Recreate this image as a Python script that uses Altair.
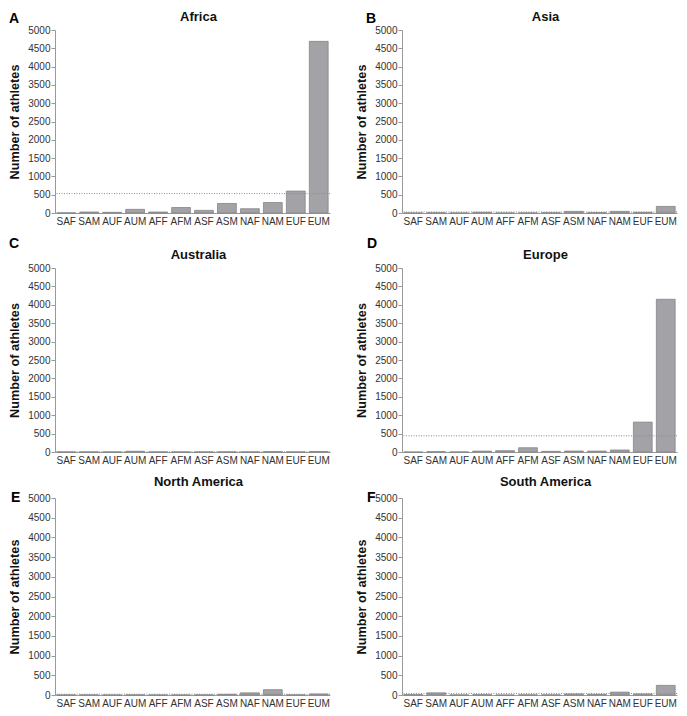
import altair as alt
import pandas as pd

categories = ["SAF", "SAM", "AUF", "AUM", "AFF", "AFM", "ASF", "ASM", "NAF", "NAM", "EUF", "EUM"]

africa = [5, 27, 18, 100, 27, 150, 72, 260, 117, 287, 600, 4690]
asia = [2, 8, 2, 20, 1, 3, 8, 45, 10, 45, 18, 180]
australia = [1, 2, 1, 20, 1, 1, 1, 2, 2, 10, 2, 15]
europe = [0, 9, 2, 25, 36, 116, 18, 27, 25, 54, 812, 4150]
north_america = [2, 2, 1, 3, 1, 1, 2, 18, 55, 136, 3, 27]
south_america = [10, 55, 3, 10, 0, 5, 5, 27, 18, 73, 27, 245]

letters = ["A", "B", "C", "D", "E", "F"]
names = ["Africa", "Asia", "Australia", "Europe", "North America", "South America"]
series = [africa, asia, australia, europe, north_america, south_america]

y_ticks = list(range(0, 5001, 500))
FONT = "Liberation Sans"
W = 275
ROW_H = [183, 184, 197]
TITLE_Y = [-9, -9, -12]
LETTER_Y = [[-7, -7], [-20, -20], [4, 4]]
LETTER_X = [[-46, -36], [-46, -35], [-44, -35]]

Y_AXIS = alt.Axis(values=y_ticks, format="d", title="Number of athletes",
                  grid=False, tickSize=4, tickColor="#9a9a9a",
                  domainColor="#9a9a9a", labelOverlap=False,
                  labelFontSize=10, labelColor="#333333", labelPadding=1,
                  labelFont=FONT, titleFont=FONT, titleFontSize=12.7,
                  titleFontWeight="bold", titleColor="#111111",
                  titlePadding=6)
Y_SCALE = alt.Scale(domain=[0, 5000], nice=False)


def panel(letter, name, values, h, ty, lx, ly):
    df = pd.DataFrame({"cat": categories, "n": values})
    base = alt.Chart(df)
    bars = base.mark_bar(color="#a3a3a7", stroke="#7c7c80", strokeWidth=0.7).encode(
        x=alt.X("cat:N", sort=categories, title=None,
                scale=alt.Scale(paddingInner=0.18, paddingOuter=0.08),
                axis=alt.Axis(labelAngle=0, ticks=False, labelPadding=3,
                              labelFontSize=10, labelColor="#333333",
                              domainColor="#9a9a9a", labelFont=FONT,
                              labelOverlap=False)),
        y=alt.Y("n:Q", scale=Y_SCALE, axis=Y_AXIS),
    )
    mean = base.mark_rule(strokeDash=[1, 1.5], color="#8a8a8a", strokeWidth=1).encode(
        y=alt.Y("mean(n):Q", scale=Y_SCALE, axis=Y_AXIS)
    )
    lab = alt.Chart(pd.DataFrame({"t": [letter]})).mark_text(
        font=FONT, fontSize=14, fontWeight="bold", align="left", baseline="alphabetic",
        color="#000000"
    ).encode(text="t:N", x=alt.value(lx), y=alt.value(ly))
    ttl = alt.Chart(pd.DataFrame({"t": [name]})).mark_text(
        font=FONT, fontSize=13, fontWeight="bold", align="center", baseline="alphabetic",
        color="#111111"
    ).encode(text="t:N", x=alt.value(W / 2 + 6), y=alt.value(ty))
    return alt.layer(bars, mean, lab, ttl).properties(width=W, height=h)


rows = []
for r in range(3):
    i, j = 2 * r, 2 * r + 1
    rows.append(alt.hconcat(
        panel(letters[i], names[i], series[i], ROW_H[r], TITLE_Y[r], LETTER_X[r][0], LETTER_Y[r][0]),
        panel(letters[j], names[j], series[j], ROW_H[r], TITLE_Y[r], LETTER_X[r][1], LETTER_Y[r][1]),
        spacing=24))

chart = alt.vconcat(*rows, spacing=11).properties(
    padding={"top": 3, "left": 0, "right": 0, "bottom": 0}
).configure_view(stroke=None)

chart.save("out.html", embed_options={"renderer": "svg", "actions": False})
